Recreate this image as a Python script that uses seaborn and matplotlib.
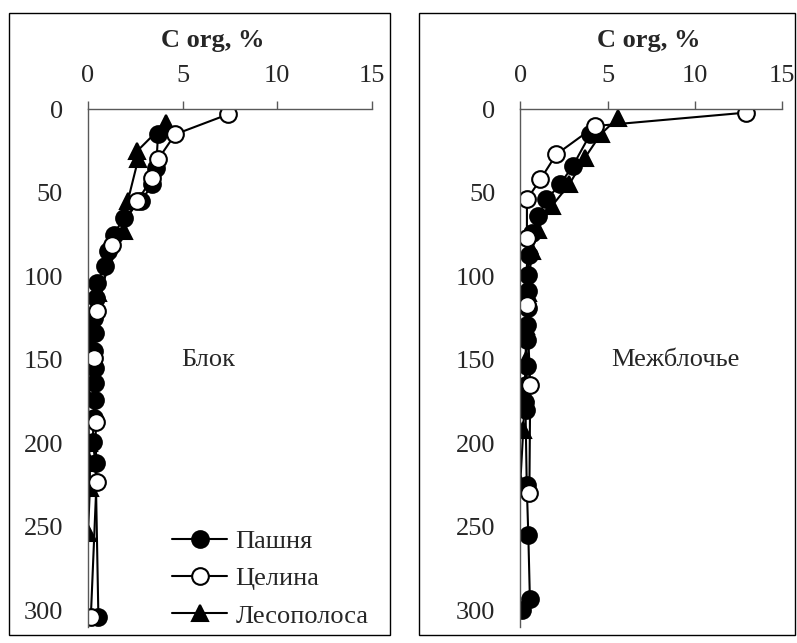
import matplotlib
matplotlib.use('Agg')
import matplotlib.pyplot as plt
import seaborn as sns
import pandas as pd
from matplotlib.patches import Rectangle
from matplotlib.ticker import MultipleLocator

sns.set_style('white')
plt.rcParams['font.family'] = ['Liberation Serif', 'DejaVu Serif']

# Блок
pashnya_blok_depth = [15, 35, 45, 55, 65, 75, 85, 94, 104, 113, 125, 134, 145, 155, 164, 174, 185, 199, 212, 304]
pashnya_blok_c = [3.7, 3.6, 3.4, 2.8, 1.9, 1.35, 1.05, 0.9, 0.45, 0.4, 0.3, 0.35, 0.3, 0.35, 0.35, 0.35, 0.3, 0.25, 0.4, 0.55]
celina_blok_depth = [3, 15, 30, 41, 55, 81, 121, 149, 187, 223, 304]
celina_blok_c = [7.4, 4.6, 3.7, 3.4, 2.6, 1.25, 0.5, 0.3, 0.4, 0.45, 0.15]
les_blok_depth = [8, 25, 30, 55, 73, 110, 125, 140, 153, 172, 200, 212, 227, 254]
les_blok_c = [4.1, 2.6, 2.65, 2.1, 1.9, 0.55, 0.15, 0.05, 0.05, 0.0, 0.05, 0.1, 0.1, 0.0]

# Межблочье
pashnya_mezh_depth = [15, 34, 45, 54, 64, 74, 87, 99, 109, 119, 129, 138, 154, 165, 175, 180, 225, 255, 293, 300]
pashnya_mezh_c = [4.0, 3.0, 2.27, 1.5, 1.03, 0.65, 0.52, 0.46, 0.46, 0.42, 0.37, 0.37, 0.37, 0.3, 0.27, 0.3, 0.37, 0.46, 0.55, 0.08]
celina_mezh_depth = [2, 10, 27, 42, 54, 77, 117, 165, 230]
celina_mezh_c = [12.9, 4.3, 2.06, 1.15, 0.38, 0.38, 0.38, 0.57, 0.52]
les_mezh_depth = [5, 15, 29, 45, 58, 72, 85, 110, 130, 150, 170, 192, 224]
les_mezh_c = [5.6, 4.6, 3.7, 2.8, 1.8, 1.0, 0.65, 0.45, 0.35, 0.3, 0.25, 0.17, 0.0]

names = ['Пашня', 'Целина', 'Лесополоса']
x_ticks = [0, 5, 10, 15]
FS = 19

fig = plt.figure(figsize=(7.97, 6.43), dpi=100)

# рамки областей диаграмм
for x0, w in [(0.0119, 0.4774), (0.5257, 0.4718)]:
    fig.patches.append(Rectangle((x0, 0.0124), w, 0.9673, transform=fig.transFigure,
                                 fill=False, edgecolor='black', lw=1))

ax1 = fig.add_axes([0.1104, 0.0249, 0.3563, 0.8051])
ax2 = fig.add_axes([0.6528, 0.0249, 0.3288, 0.8051])


def draw(ax, pas, cel, les, label, label_x, title_x):
    styles = [(les, '^', 'black'), (pas, 'o', 'black'), (cel, 'o', 'white')]
    for (c, d), m, fc in styles:
        df = pd.DataFrame({'c': c, 'depth': d})
        sns.lineplot(data=df, x='c', y='depth', ax=ax, sort=False, estimator=None,
                     color='black', lw=1.5, marker=m, markersize=12,
                     markerfacecolor=fc, markeredgecolor='black', markeredgewidth=1.5)
    ax.set_xlim(0, 15)
    ax.set_ylim(310, 0)
    ax.set_xlabel('')
    ax.set_ylabel('')
    ax.xaxis.tick_top()
    ax.set_xticks(x_ticks)
    ax.yaxis.set_major_locator(MultipleLocator(50))
    ax.yaxis.set_minor_locator(MultipleLocator(25))
    ax.tick_params(axis='x', direction='out', length=6, width=1, pad=10, labelsize=FS, color='#595959')
    ax.tick_params(axis='y', which='both', direction='out', length=6, width=1, pad=12, labelsize=FS, color='#595959')
    ax.tick_params(axis='y', which='minor', labelleft=False)
    for s in ['right', 'bottom']:
        ax.spines[s].set_visible(False)
    for s in ['top', 'left']:
        ax.spines[s].set_color('#595959')
        ax.spines[s].set_linewidth(1)
    ax.patch.set_alpha(0)
    ax.text(label_x, 150, label, ha='center', va='center', fontsize=FS)
    ax.text(title_x, 1.132, 'C org, %', transform=ax.transAxes, ha='center', va='center',
            fontsize=FS, fontweight='bold')


draw(ax1, (pashnya_blok_c, pashnya_blok_depth), (celina_blok_c, celina_blok_depth),
     (les_blok_c, les_blok_depth), 'Блок', 6.35, 0.44)
draw(ax2, (pashnya_mezh_c, pashnya_mezh_depth), (celina_mezh_c, celina_mezh_depth),
     (les_mezh_c, les_mezh_depth), 'Межблочье', 8.9, 0.489)

lines = ax1.get_lines()
ax1.legend([lines[1], lines[2], lines[0]], names, loc='center left',
           bbox_to_anchor=(0.2158, 0.100), bbox_transform=fig.transFigure,
           frameon=False, fontsize=FS, handlelength=2.1, handletextpad=0.3,
           labelspacing=0.52, borderpad=0, borderaxespad=0)

fig.savefig('out.png', dpi=100)
